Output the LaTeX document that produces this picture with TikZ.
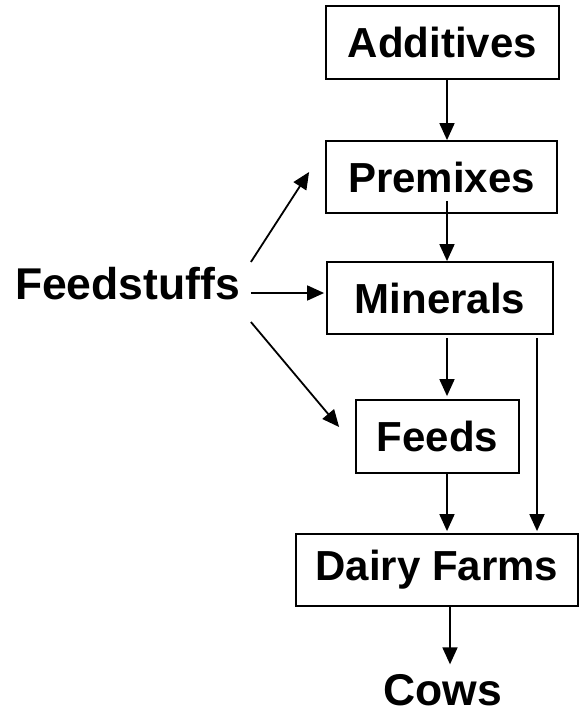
\documentclass[tikz,border=0pt]{standalone}
\usepackage{fontspec}
\setmainfont{Liberation Sans}
\usepackage{tikz}
\usetikzlibrary{positioning, calc}
\usetikzlibrary{arrows.meta}

\begin{document}
\begin{tikzpicture}[x=1pt,y=-1pt,-{Triangle[length=17pt,width=15pt]},draw=black!100,line width=1.8pt]
	\def \spine{447}
	\def \sidex{537}
	\def \cowx{450}

	\tikzstyle{b-node}=[rectangle,draw=black!100,line width=1.8pt,inner sep=0pt,font=\fontsize{42}{48}\selectfont\bfseries]
	\tikzstyle{t-node}=[inner ysep=0pt,inner xsep=10pt,font=\fontsize{44.5}{50}\selectfont\bfseries]

	\useasboundingbox (0,0) rectangle (579,715);

	% boxes
	\node[b-node,minimum width=233pt,minimum height=73pt] 	(add)	at (442.5,42.5)	{Additives};
	\node[b-node,minimum width=231pt,minimum height=72pt] 	(prem)	at (441.5,177)	{Premixes};
	\node[b-node,minimum width=226pt,minimum height=72pt] 	(min)	at (440,298)	{Minerals};
	\node[b-node,minimum width=163pt,minimum height=73pt] 	(feeds)	at (437.5,436.5)	{Feeds};
	\node[b-node,minimum width=282pt,minimum height=72pt] 	(dairy)	at (437,570)	{Dairy Farms};

	% free labels
	\node[t-node]	(feed)	at (127.5,284)	{Feedstuffs};
	\node[t-node]	(cows)	at (443,690)	{Cows};

	\coordinate (sp) at (\spine,0);
	\coordinate (sd) at (\sidex,0);
	\coordinate (cx) at (\cowx,0);

	\path
		(add.south -| sp)	edge	(prem.north -| sp)
		($(prem.south -| sp)+(0,-13)$)	edge	(min.north -| sp)
		($(min.south -| sp)+(0,3)$)	edge	($(feeds.north -| sp)+(0,-3)$)
		(feeds.south -| sp)	edge	($(dairy.north -| sp)+(0,-2)$)
		($(min.south -| sd)+(0,3)$)	edge	($(dairy.north -| sd)+(0,-2)$)
		(dairy.south -| cx)	edge	($(cows.north -| cx)+(0,-9)$)
		%
		($(feed.east)+(0,-22)$)	edge	($(prem.west)+(-16,-5)$)
		($(feed.east)+(0,9)$)	edge	($(min.west)+(-2,-5)$)
		($(feed.east)+(0,38)$)	edge	($(feeds.west)+(-16,-9.5)$);
\end{tikzpicture}
\end{document}
